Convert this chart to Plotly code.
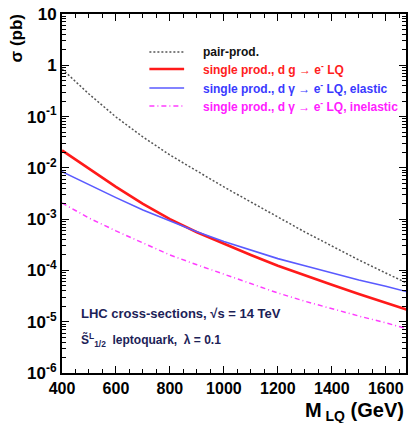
import plotly.graph_objects as go

mass = [400, 500, 600, 700, 800, 900, 1000, 1100, 1200, 1300, 1400, 1500, 1600, 1700]
pair_prod = [0.847, 0.275, 0.0982, 0.0400, 0.0178, 0.00869, 0.00424, 0.00216, 0.00110,
             5.62e-4, 3.00e-4, 1.60e-4, 8.91e-5, 4.98e-5]
single_dg = [0.0219, 0.00955, 0.00427, 0.00198, 0.00100, 5.55e-4, 3.28e-4, 2.0e-4, 1.23e-4,
             7.9e-5, 5.25e-5, 3.47e-5, 2.34e-5, 1.58e-5]
single_el = [0.00841, 0.00468, 0.00263, 0.00151, 9.1e-4, 5.65e-4, 3.68e-4, 2.47e-4, 1.70e-4,
             1.23e-4, 8.9e-5, 6.5e-5, 4.9e-5, 3.6e-5]
single_inel = [0.00207, 1.05e-3, 5.9e-4, 3.47e-4, 2.0e-4, 1.29e-4, 8.5e-5, 5.5e-5, 3.63e-5,
               2.51e-5, 1.78e-5, 1.29e-5, 9.5e-6, 6.8e-6]

series_names = ["pair-prod.",
                "single prod., d g → e<sup>-</sup> LQ",
                "single prod., d γ → e<sup>-</sup> LQ, elastic",
                "single prod., d γ → e<sup>-</sup> LQ, inelastic"]

x_ticks = [400, 600, 800, 1000, 1200, 1400, 1600]
y_tickvals = [1e-6, 1e-5, 1e-4, 1e-3, 1e-2, 1e-1, 1, 10]
y_ticktext = ["<b>10<sup>-6</sup></b>", "<b>10<sup>-5</sup></b>", "<b>10<sup>-4</sup></b>",
              "<b>10<sup>-3</sup></b>", "<b>10<sup>-2</sup></b>", "<b>10<sup>-1</sup></b>",
              "<b>1</b>", "<b>10</b>"]

FONT = "Liberation Sans, Arial, sans-serif"

line_styles = [dict(color="#555555", width=1.5, dash="2px,2px"),
               dict(color="#ff1a1a", width=2.6),
               dict(color="#5a5aff", width=1.6),
               dict(color="#ff3cff", width=1.5, dash="5px,3px,1px,3px")]
text_colors = ["#111111", "#ff2020", "#3a3aff", "#ff20ff"]
series = [pair_prod, single_dg, single_el, single_inel]

fig = go.Figure()
for name, ys, ls in zip(series_names, series, line_styles):
    fig.add_trace(go.Scatter(x=mass, y=ys, mode="lines", line=ls, name=name, showlegend=False))

axis_common = dict(showline=True, linecolor="black", linewidth=2, mirror="allticks",
                   ticks="inside", tickcolor="black", showgrid=False, zeroline=False)

fig.update_xaxes(range=[400, 1675], tickvals=x_ticks, ticklen=7, tickwidth=1.2,
                 tickfont=dict(family=FONT, size=16, color="black", weight="bold"),
                 minor=dict(ticks="inside", dtick=50, ticklen=4, tickcolor="black", showgrid=False),
                 **axis_common)
fig.update_yaxes(type="log", range=[-6, 1], tickvals=y_tickvals, ticktext=y_ticktext,
                 ticklen=7, tickwidth=1.2,
                 tickfont=dict(family=FONT, size=17, color="black"),
                 minor=dict(ticks="inside", ticklen=4, tickcolor="black", showgrid=False,
                            tickvals=[m * 10 ** e for e in range(-6, 1) for m in range(2, 10)]),
                 **axis_common)

# manual legend (line samples + coloured labels), in paper coordinates
legend_rows = [0.894, 0.847, 0.794, 0.744]
shapes = []
annotations = []
for yr, ls, name, col in zip(legend_rows, line_styles, series_names, text_colors):
    shapes.append(dict(type="line", xref="paper", yref="paper", x0=0.254, x1=0.355, y0=yr, y1=yr,
                       line=ls))
    annotations.append(dict(text="<b>" + name + "</b>", xref="paper", yref="paper", x=0.405, y=yr,
                            xanchor="left", yanchor="middle", showarrow=False,
                            font=dict(family=FONT, size=12, color=col)))

annotations += [
    dict(text="<b>σ (pb)</b>", xref="paper", yref="paper", x=-0.133, y=1.005,
         xanchor="center", yanchor="top", textangle=-90, showarrow=False,
         font=dict(family=FONT, size=17, color="black")),
    dict(text="<b>M<sub> LQ</sub> (GeV)</b>", xref="paper", yref="paper", x=1.0, y=-0.068,
         xanchor="right", yanchor="top", showarrow=False,
         font=dict(family=FONT, size=20, color="black")),
    dict(text="<b>LHC cross-sections, √s = 14 TeV</b>", xref="paper", yref="paper",
         x=0.05, y=0.167, xanchor="left", yanchor="middle", showarrow=False,
         font=dict(family=FONT, size=13, color="#1c2257")),
    dict(text="<b>S̃<sup>L</sup><sub>1/2</sub>  leptoquark,  λ = 0.1</b>", xref="paper", yref="paper",
         x=0.05, y=0.092, xanchor="left", yanchor="middle", showarrow=False,
         font=dict(family=FONT, size=12, color="#1c2257")),
]

fig.update_layout(
    width=410, height=423,
    margin=dict(l=62, r=2, t=14, b=50),
    paper_bgcolor="white", plot_bgcolor="white",
    font=dict(family=FONT, color="black"),
    showlegend=False,
    shapes=shapes,
    annotations=annotations,
)

fig.write_html("out.html", config={"displayModeBar": False},
               post_script="document.body.style.margin='0';document.body.style.overflow='hidden';"
                           "document.documentElement.style.overflow='hidden';")
